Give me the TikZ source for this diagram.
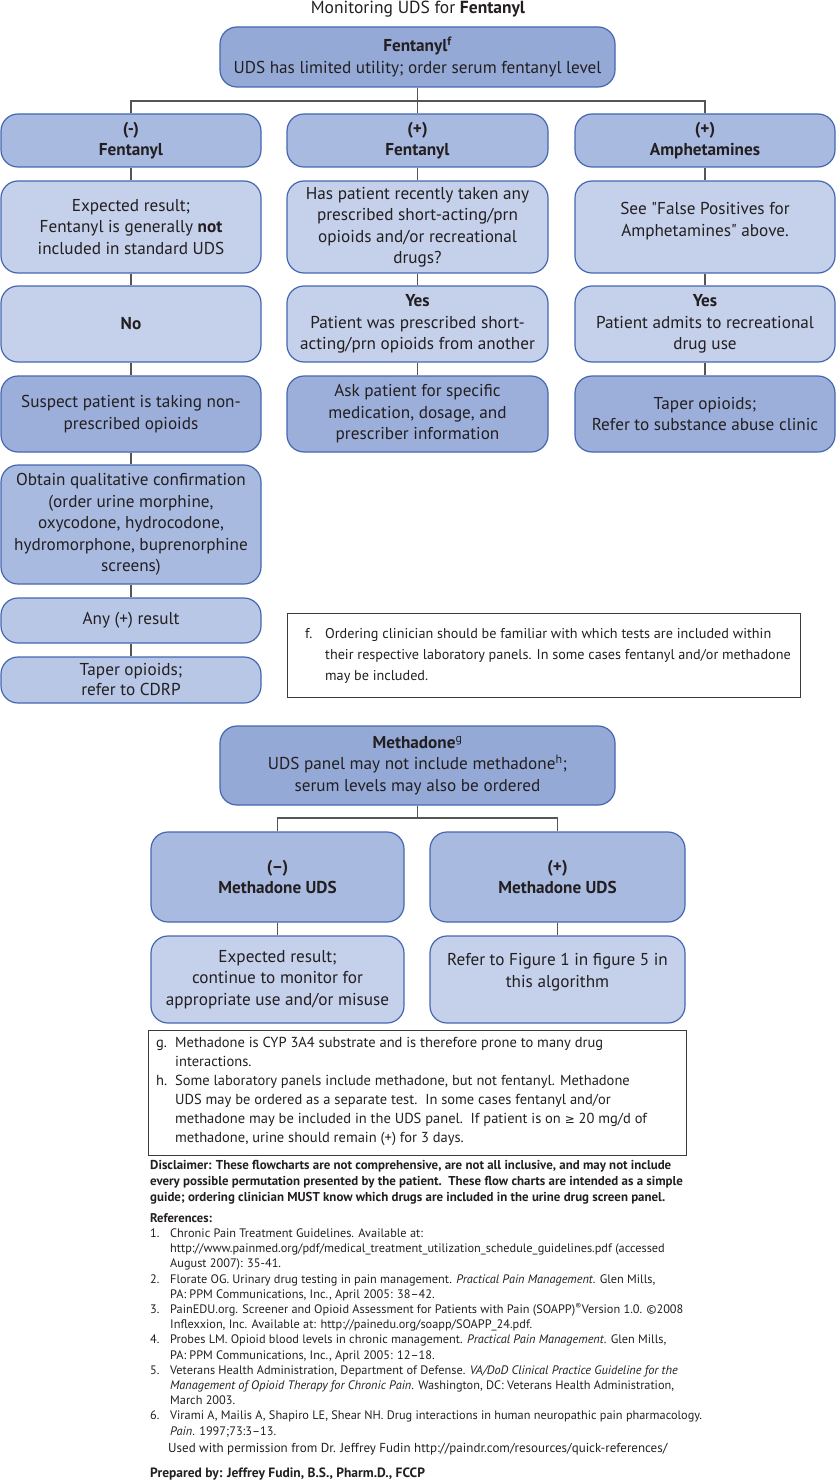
\documentclass[tikz,border=0pt]{standalone}
\usepackage{fontspec}
\setmainfont{PT Sans}
\newfontfamily\symf{DejaVu Sans}
\newfontfamily\ptq{PT Sans}
\usepackage{array}
\definecolor{bordc}{HTML}{4467B0}
\definecolor{linec}{HTML}{555555}
\definecolor{txtc}{HTML}{231F20}
\definecolor{cdark}{HTML}{95A9D7}
\definecolor{cmid}{HTML}{A9BAE0}
\definecolor{cact}{HTML}{9CAFDB}
\definecolor{clight}{HTML}{C5D0EB}
\definecolor{clm}{HTML}{B9C7E7}
\definecolor{notec}{HTML}{3C3C3C}
\newcommand\bxf{\fontsize{17.2}{21.5}\selectfont}
\newcommand\sq{{\ptq"}}
\tikzset{
  fbox/.style={draw=bordc, line width=1.2pt, rounded corners=17pt, align=center,
    inner sep=0pt, font=\bxf, text=txtc},
  conn/.style={draw=linec, line width=1.4pt},
  notebox/.style={draw=notec, line width=1pt},
  blk/.style={inner sep=0pt, anchor=north west, text=txtc},
}
\begin{document}
\begin{tikzpicture}[x=1pt,y=-1pt]
\useasboundingbox (0,0) rectangle (836,1482);

\node[text=txtc, font=\fontsize{17.5}{20}\selectfont] (title) at (418,9) {Monitoring UDS for \textbf{Fentanyl}};

% top box
\node[fbox, fill=cdark, minimum width=395pt, minimum height=60pt] (top) at (417.5,57)
  {\textbf{Fentanyl\textsuperscript{f}}\\UDS has limited utility; order serum fentanyl level};

% row 1
\node[fbox, fill=cmid, minimum width=260pt, minimum height=53pt] (a1) at (131,140.5) {\textbf{(-)}\\\textbf{Fentanyl}};
\node[fbox, fill=cmid, minimum width=261pt, minimum height=53pt] (b1) at (417.5,140.5) {\textbf{(+)}\\\textbf{Fentanyl}};
\node[fbox, fill=cmid, minimum width=260pt, minimum height=53pt] (c1) at (705,140.5) {\textbf{(+)}\\\textbf{Amphetamines}};

% row 2
\node[fbox, fill=clight, minimum width=260pt, minimum height=92pt] (a2) at (131,227)
  {Expected result;\\Fentanyl is generally \textbf{not}\\included in standard UDS};
\node[fbox, fill=clight, minimum width=261pt, minimum height=92pt] (b2) at (417.5,227)
  {Has patient recently taken any\\prescribed short-acting/prn\\opioids and/or recreational\\drugs?};
\node[fbox, fill=clight, minimum width=260pt, minimum height=92pt] (c2) at (705,227) {};
\node[text=txtc, font=\bxf, align=center] (c2t) at (705,221) {See \sq False Positives for\\Amphetamines\sq\ above.};

% row 3
\node[fbox, fill=clight, minimum width=260pt, minimum height=76pt] (a3) at (131,324) {\textbf{No}};
\node[fbox, fill=clight, minimum width=261pt, minimum height=76pt] (b3) at (417.5,324)
  {\textbf{Yes}\\Patient was prescribed short-\\acting/prn opioids from another};
\node[fbox, fill=clight, minimum width=260pt, minimum height=76pt] (c3) at (705,324)
  {\textbf{Yes}\\Patient admits to recreational\\drug use};

% row 4
\node[fbox, fill=cact, minimum width=260pt, minimum height=76pt] (a4) at (131,414)
  {Suspect patient is taking non-\\prescribed opioids};
\node[fbox, fill=cact, minimum width=261pt, minimum height=76pt] (b4) at (417.5,414)
  {Ask patient for specific\\medication, dosage, and\\prescriber information};
\node[fbox, fill=cact, minimum width=260pt, minimum height=76pt] (c4) at (705,414)
  {Taper opioids;\\Refer to substance abuse clinic};

% column 1 continued
\node[fbox, fill=cmid, minimum width=260pt, minimum height=119pt] (a5) at (131,524.5)
  {Obtain qualitative confirmation\\(order urine morphine,\\oxycodone, hydrocodone,\\hydromorphone, buprenorphine\\screens)};
\node[fbox, fill=clm, minimum width=260pt, minimum height=45pt] (a6) at (131,620.5) {Any (+) result};
\node[fbox, fill=clm, minimum width=260pt, minimum height=46pt, font=\fontsize{17.2}{20}\selectfont] (a7) at (131,680)
  {Taper opioids;\\refer to CDRP};

% connectors fentanyl
\coordinate (jf) at (417.5,101);
\draw[conn] (top.south) -- (jf);
\draw[conn] (a1.north) -- (a1.north |- jf) -- (c1.north |- jf) -- (c1.north);
\draw[conn] (jf) -- (b1.north);
\foreach \c in {a,b,c}{
  \draw[conn] (\c1.south) -- (\c2.north);
  \draw[conn] (\c2.south) -- (\c3.north);
  \draw[conn] (\c3.south) -- (\c4.north);
}
\draw[conn] (a4.south) -- (a5.north);
\draw[conn] (a5.south) -- (a6.north);
\draw[conn] (a6.south) -- (a7.north);

% footnote f
\draw[notebox] (287,613) rectangle (800,697);
\node[blk, font=\fontsize{14.2}{21}\selectfont] (nf) at (305,623.5) {%
\begin{tabular}{@{}p{20pt}@{}l@{}}
f. & Ordering clinician should be familiar with which tests are included within\\
 & their respective laboratory panels. In some cases fentanyl and/or methadone\\
 & may be included.
\end{tabular}};

% methadone section
\node[fbox, fill=cdark, minimum width=395pt, minimum height=79pt] (mtop) at (417.5,765.5)
  {\textbf{Methadone}\textsuperscript{g}\\UDS panel may not include methadone\textsuperscript{h};\\serum levels may also be ordered};
\node[fbox, fill=cmid, minimum width=253pt, minimum height=90pt] (m1l) at (277.5,877)
  {\textbf{(--)}\\\textbf{Methadone UDS}};
\node[fbox, fill=cmid, minimum width=255pt, minimum height=90pt] (m1r) at (557.5,877)
  {\textbf{(+)}\\\textbf{Methadone UDS}};
\node[fbox, fill=clight, minimum width=253pt, minimum height=87pt] (m2l) at (277.5,979.5)
  {Expected result;\\continue to monitor for\\appropriate use and/or misuse};
\node[fbox, fill=clight, minimum width=255pt, minimum height=87pt] (m2r) at (557.5,979.5) {};
\node[text=txtc, font=\bxf, align=center] (m2rt) at (557.5,972) {Refer to Figure 1 in figure 5 in\\this algorithm};

\coordinate (jm) at (417.5,818);
\draw[conn] (mtop.south) -- (jm);
\draw[conn] (m1l.north) -- (m1l.north |- jm) -- (m1r.north |- jm) -- (m1r.north);
\draw[conn] (m1l.south) -- (m2l.north);
\draw[conn] (m1r.south) -- (m2r.north);

% footnote g h
\draw[notebox] (148,1030) rectangle (686,1155);
\node[blk, font=\fontsize{14.5}{19}\selectfont] (ngh) at (156,1034) {%
\begin{tabular}{@{}p{19pt}@{}l@{}}
g. & Methadone is CYP 3A4 substrate and is therefore prone to many drug\\
 & interactions.\\
h. & Some laboratory panels include methadone, but not fentanyl. Methadone\\
 & UDS may be ordered as a separate test.\ \ In some cases fentanyl and/or\\
 & methadone may be included in the UDS panel.\ \ If patient is on {\symf\fontsize{12}{19}\selectfont ≥} 20 mg/d of\\
 & methadone, urine should remain (+) for 3 days.
\end{tabular}};

% disclaimer
\node[blk, font=\fontsize{12.9}{16}\selectfont\bfseries] (disc) at (150,1158.5) {%
\begin{tabular}{@{}l@{}}
Disclaimer: These flowcharts are not comprehensive, are not all inclusive, and may not include\\
every possible permutation presented by the patient.\ \ These flow charts are intended as a simple\\
guide; ordering clinician MUST know which drugs are included in the urine drug screen panel.
\end{tabular}};

% references
\node[blk, font=\fontsize{12.3}{15.2}\selectfont] (refs) at (150,1211.5) {%
\begin{tabular}{@{}p{20pt}@{}l@{}}
\multicolumn{2}{@{}l@{}}{\textbf{\fontsize{12.6}{15.2}\selectfont References:}}\\
1. & Chronic Pain Treatment Guidelines. Available at:\\
 & http://www.painmed.org/pdf/medical\_treatment\_utilization\_schedule\_guidelines.pdf (accessed\\
 & August 2007): 35-41.\\
2. & Florate OG. Urinary drug testing in pain management. \textit{Practical Pain Management}. Glen Mills,\\
 & PA: PPM Communications, Inc., April 2005: 38–42.\\
3. & PainEDU.org. Screener and Opioid Assessment for Patients with Pain (SOAPP)\textsuperscript{®}Version 1.0. ©2008\\
 & Inflexxion, Inc. Available at: http://painedu.org/soapp/SOAPP\_24.pdf.\\
4. & Probes LM. Opioid blood levels in chronic management. \textit{Practical Pain Management}. Glen Mills,\\
 & PA: PPM Communications, Inc., April 2005: 12–18.\\
5. & Veterans Health Administration, Department of Defense. \textit{VA/DoD Clinical Practice Guideline for the}\\
 & \textit{Management of Opioid Therapy for Chronic Pain}. Washington, DC: Veterans Health Administration,\\
 & March 2003.\\
6. & Virami A, Mailis A, Shapiro LE, Shear NH. Drug interactions in human neuropathic pain pharmacology.\\
 & \textit{Pain}. 1997;73:3–13.
\end{tabular}};

\node[text=txtc, anchor=west, inner sep=0pt, font=\fontsize{13}{15}\selectfont] (used) at (168,1449)
  {Used with permission from Dr. Jeffrey Fudin http://paindr.com/resources/quick-references/};
\node[text=txtc, anchor=west, inner sep=0pt, font=\fontsize{13.5}{15}\selectfont\bfseries] (prep) at (150,1474)
  {Prepared by: Jeffrey Fudin, B.S., Pharm.D., FCCP};
\end{tikzpicture}
\end{document}
